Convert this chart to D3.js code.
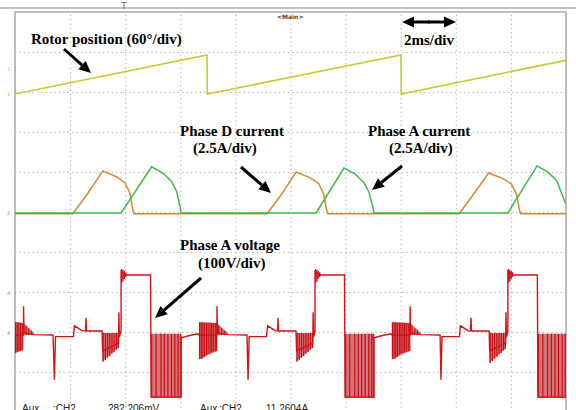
<!DOCTYPE html>
<html>
<head>
<meta charset="utf-8">
<script src="https://cdn.jsdelivr.net/npm/d3@7"></script>
<style>
    body { margin: 0; background: #fff; }
    svg { display: block; }
</style>
</head>
<body>
<div id="wrapper"></div>
<script>
// scope screen: 10 div across at 2 ms/div, 10 div down
const timeTicks = [0, 2, 4, 6, 8, 10, 12, 14, 16, 18, 20]   // ms
const divTicks = [0, 1, 2, 3, 4, 5, 6, 7, 8, 9, 10]

// rotor position, deg (60 deg/div)
const rotorPos = [[0, 58], [0, 0], [6.97, 58.5], [6.98, 0], [14.01, 58.5], [14.02, 0], [20, 50.5]]

// phase currents, A (2.5 A/div)
const phaseD = [[0, -0.05], [2.10, -0.05], [2.65, 1.25], [3.19, 2.63], [3.70, 2.25], [3.99, 1.88], [4.17, 1.25], [4.28, 0.19], [4.32, -0.05],
    [9.15, -0.05], [9.69, 1.2], [10.20, 2.56], [10.72, 2.2], [11.02, 1.85], [11.20, 1.2], [11.31, 0.2], [11.35, -0.05],
    [16.12, -0.05], [16.66, 1.2], [17.19, 2.5], [17.72, 2.15], [18.02, 1.8], [18.20, 1.2], [18.31, 0.2], [18.35, -0.05], [20, -0.05]]
const phaseA = [[0, 0], [3.85, 0], [4.96, 2.89], [5.38, 2.48], [5.69, 1.96], [5.87, 1.33], [5.99, 0.39], [6.03, 0],
    [10.93, 0], [11.94, 2.81], [12.34, 2.45], [12.67, 1.9], [12.85, 1.3], [12.99, 0.4], [13.03, 0],
    [17.89, 0], [18.95, 2.94], [19.35, 2.55], [19.67, 2.0], [19.96, 0.69], [20, 0.6]]

// phase A voltage, V (100 V/div)
const phaseAVolt = [[0, -5], [0.31, -5], [0.31, 67], [0.33, 0], [0.69, -4], [1.38, -5], [1.43, -117], [1.47, -9], [2.12, -9], [2.16, 18], [2.43, 6], [2.56, 5], [2.58, 38], [2.60, 5], [3.16, 5],
    [3.18, -45], [3.76, -25], [3.77, 52], [3.79, -10], [3.85, 5], [3.85, 155], [4.07, 145], [4.92, 145], [4.94, -160], [6.03, -160], [6.03, -12], [6.30, -7], [6.64, -2],
    [6.68, -5], [7.33, -5], [7.33, 67], [7.35, 0], [7.73, -4], [8.42, -5], [8.46, -117], [8.50, -9], [9.13, -9], [9.17, 18], [9.44, 6], [9.53, 5], [9.55, 38], [9.57, 5], [10.20, 5],
    [10.22, -45], [10.81, -25], [10.82, 52], [10.84, -10], [10.89, 5], [10.89, 155], [11.11, 145], [11.96, 145], [11.98, -160], [13.03, -160], [13.03, -12], [13.30, -7], [13.65, -2],
    [13.68, -5], [14.34, -5], [14.34, 67], [14.36, 0], [14.74, -4], [15.43, -5], [15.46, -117], [15.50, -9], [16.13, -9], [16.17, 18], [16.44, 6], [16.53, 5], [16.55, 38], [16.57, 5], [17.21, 5],
    [17.23, -45], [17.81, -25], [17.82, 52], [17.84, -10], [17.89, 5], [17.89, 155], [18.11, 145], [18.96, 145], [18.98, -160], [20, -160]]

// PWM chopping envelopes: [t0, t1, top0, top1, bottom0, bottom1]
const chopFills = [[0, 0.31, 27, 25, -50, -42], [0.31, 0.69, 25, 0, -5, -5], [3.16, 3.77, 0, 0, -72, -35], [3.85, 4.07, 158, 145, 128, 145], [4.94, 6.03, -2, -2, -162, -162],
    [6.68, 7.33, 27, 25, -65, -45], [7.33, 7.73, 25, 0, -5, -5], [10.20, 10.82, 0, 0, -72, -35], [10.89, 11.11, 158, 145, 128, 145], [11.98, 13.03, -2, -2, -162, -162],
    [13.68, 14.34, 27, 25, -65, -45], [14.34, 14.74, 25, 0, -5, -5], [17.21, 17.82, 0, 0, -75, -38], [17.89, 18.11, 158, 145, 128, 145], [18.98, 20, -2, -2, -162, -162]]

// individual chopping strokes: [t, top, bottom]
const chopLines = [[0.02, 27, -50], [0.08, 27, -48], [0.14, 26, -46], [0.20, 26, -45], [0.26, 25, -43], [0.40, 18, -5], [0.50, 12, -5], [0.60, 6, -5],
    [3.20, 0, -72], [3.28, 0, -68], [3.36, 0, -62], [3.44, 0, -58], [3.52, 0, -52], [3.60, 0, -48], [3.68, 0, -42], [3.75, 0, -38],
    [3.87, 160, 125], [3.92, 158, 128], [3.97, 155, 135], [4.02, 152, 140],
    [4.96, -2, -162], [5.12, -2, -162], [5.30, -2, -162], [5.42, -2, -162], [5.55, -2, -162], [5.68, -2, -162], [5.80, -2, -162], [5.92, -2, -162], [6.02, -2, -162],
    [6.70, 27, -65], [6.76, 27, -65], [6.82, 27, -64], [6.88, 26, -60], [6.95, 26, -55], [7.01, 26, -52], [7.08, 26, -50], [7.14, 25, -48], [7.20, 25, -47], [7.27, 25, -46], [7.32, 25, -45],
    [7.40, 18, -5], [7.50, 12, -5], [7.60, 6, -5],
    [10.24, 0, -72], [10.32, 0, -68], [10.40, 0, -62], [10.48, 0, -58], [10.56, 0, -52], [10.64, 0, -48], [10.72, 0, -42], [10.80, 0, -38],
    [10.91, 160, 125], [10.96, 158, 128], [11.01, 155, 135], [11.06, 152, 140],
    [12.00, -2, -162], [12.15, -2, -162], [12.33, -2, -162], [12.46, -2, -162], [12.58, -2, -162], [12.71, -2, -162], [12.84, -2, -162], [12.95, -2, -162], [13.02, -2, -162],
    [13.70, 27, -65], [13.76, 27, -65], [13.82, 27, -64], [13.88, 26, -60], [13.95, 26, -55], [14.01, 26, -52], [14.08, 26, -50], [14.14, 25, -48], [14.20, 25, -47], [14.27, 25, -46], [14.33, 25, -45],
    [14.41, 18, -5], [14.51, 12, -5], [14.61, 6, -5],
    [17.25, 0, -75], [17.33, 0, -70], [17.41, 0, -64], [17.49, 0, -60], [17.57, 0, -54], [17.65, 0, -50], [17.73, 0, -44], [17.80, 0, -40],
    [17.91, 160, 125], [17.96, 158, 128], [18.01, 155, 135], [18.06, 152, 140],
    [19.00, -2, -162], [19.16, -2, -162], [19.33, -2, -162], [19.47, -2, -162], [19.60, -2, -162], [19.73, -2, -162], [19.86, -2, -162], [19.97, -2, -162]]

window.addEventListener("load", paint)

function paint() {
    const width = 576, height = 410
    const plot = { left: 15, right: 566, top: 12, bottom: 412 }

    const svg = d3.select("#wrapper").append("svg")
        .attr("width", width).attr("height", height)
        .style("background", "#fff")

    const x = d3.scaleLinear().domain([0, 20]).range([plot.left, plot.right])
    const yDiv = d3.scaleLinear().domain([0, 10]).range([plot.top, plot.bottom])
    // channel offsets (zero level in divisions from top)
    const yRotor = d3.scaleLinear().domain([0, 60]).range([yDiv(2.05), yDiv(1.05)])
    const yCur = d3.scaleLinear().domain([0, 2.5]).range([yDiv(5.025), yDiv(4.025)])
    const yVolt = d3.scaleLinear().domain([0, 100]).range([yDiv(8.025), yDiv(7.025)])

    // top header line
    svg.append("line").attr("x1", 0).attr("x2", width).attr("y1", 8).attr("y2", 8)
        .attr("stroke", "#8a8a8a").attr("stroke-width", 1.2)
    svg.append("text").attr("x", 124).attr("y", 9).attr("text-anchor", "middle")
        .attr("font-family", "DejaVu Sans").attr("font-size", 9).attr("fill", "#666").text("T")
    svg.append("text").attr("x", 277).attr("y", 19)
        .attr("font-family", "DejaVu Sans").attr("font-weight", "bold").attr("font-size", 6)
        .attr("fill", "#444").text("<Main>")

    // grid via axes
    const grid = svg.append("g").attr("class", "grid")
    grid.append("g").attr("transform", `translate(0,${plot.bottom})`)
        .call(d3.axisBottom(x).tickValues(timeTicks.slice(1, -1)).tickSize(plot.top - plot.bottom).tickFormat(""))
    grid.append("g").attr("transform", `translate(${plot.left},0)`)
        .call(d3.axisLeft(yDiv).tickValues(divTicks.slice(1, -1)).tickSize(plot.left - plot.right).tickFormat(""))
    grid.selectAll(".domain").remove()
    grid.selectAll(".tick line").attr("stroke", "#a9a9a9").attr("stroke-width", 1)
        .attr("stroke-dasharray", "1.2,3.2")

    svg.append("rect").attr("x", plot.left).attr("y", plot.top)
        .attr("width", plot.right - plot.left).attr("height", plot.bottom - plot.top)
        .attr("fill", "none").attr("stroke", "#9c9c9c").attr("stroke-width", 1.3)

    // channel markers on the left edge
    const markers = [[yRotor(38), "1", "#c8cf5a"], [yRotor(0), "1", "#c8cf5a"], [yCur(0), "2", "#d09a5a"], [yVolt(100), "4", "#b080d0"], [yVolt(0), "4", "#d06060"]]
    svg.selectAll(".marker").data(markers).join("text")
        .attr("x", 7).attr("y", d => d[0] + 2).attr("font-size", 5)
        .attr("font-family", "DejaVu Sans").attr("fill", d => d[2]).text(d => d[1])

    svg.append("clipPath").attr("id", "clip").append("rect")
        .attr("x", plot.left).attr("y", plot.top)
        .attr("width", plot.right - plot.left).attr("height", plot.bottom - plot.top)
    const traces = svg.append("g").attr("clip-path", "url(#clip)")

    // rotor position
    traces.append("path").datum(rotorPos)
        .attr("d", d3.line().x(d => x(d[0])).y(d => yRotor(d[1])))
        .attr("fill", "none").attr("stroke", "#c4cc2e").attr("stroke-width", 1.6)

    // currents
    const curLine = d3.line().x(d => x(d[0])).y(d => yCur(d[1]))
    traces.append("path").datum(phaseD).attr("d", curLine)
        .attr("fill", "none").attr("stroke", "#d38a32").attr("stroke-width", 1.5)
    traces.append("path").datum(phaseA).attr("d", curLine)
        .attr("fill", "none").attr("stroke", "#3dbb47").attr("stroke-width", 1.5)

    // voltage chopping
    traces.selectAll(".chopFill").data(chopFills).join("path")
        .attr("d", d => d3.area().x(p => x(p[0])).y0(p => yVolt(p[2])).y1(p => yVolt(p[1]))
            ([[d[0], d[2], d[4]], [d[1], d[3], d[5]]]))
        .attr("fill", "#cf5c64").attr("opacity", 0.85)
    traces.selectAll(".chopLine").data(chopLines).join("line")
        .attr("x1", d => x(d[0])).attr("x2", d => x(d[0]))
        .attr("y1", d => yVolt(d[1])).attr("y2", d => yVolt(d[2]))
        .attr("stroke", "#c80f12").attr("stroke-width", 1.2)
    traces.append("path").datum(phaseAVolt)
        .attr("d", d3.line().x(d => x(d[0])).y(d => yVolt(d[1])))
        .attr("fill", "none").attr("stroke", "#d21616").attr("stroke-width", 1.4)

    // annotations
    const label = (tx, ty, s) => svg.append("text").attr("x", tx).attr("y", ty)
        .attr("font-family", "Liberation Serif").attr("font-weight", "bold")
        .attr("font-size", 15).attr("fill", "#000").text(s)
    label(31, 44, "Rotor position (60°/div)")
    label(404, 45, "2ms/div")
    label(180, 136, "Phase D current")
    label(193, 153, "(2.5A/div)")
    label(368, 136, "Phase A current")
    label(389, 153, "(2.5A/div)")
    label(180, 250, "Phase A voltage")
    label(198, 268, "(100V/div)")

    arrow(svg, 64, 49, 91, 73)
    arrow(svg, 241, 167, 271, 193)
    arrow(svg, 402, 166, 372, 190)
    arrow(svg, 201, 278, 155, 318)
    arrow(svg, 430, 22, 402, 22)
    arrow(svg, 428, 22, 456, 22)

    // readouts along the bottom (cut off by the crop)
    const readouts = [[22, "Aux"], [53, ":CH2"], [108, "282.206mV"], [200, "Aux"], [219, ":CH2"], [266, "11.2604A"]]
    svg.selectAll(".readout").data(readouts).join("text")
        .attr("x", d => d[0]).attr("y", 412).attr("font-family", "Liberation Sans")
        .attr("font-size", 10).attr("fill", "#222").text(d => d[1])
}

function arrow(g, x1, y1, x2, y2) {
    const len = Math.hypot(x2 - x1, y2 - y1)
    const ux = (x2 - x1) / len, uy = (y2 - y1) / len
    const headL = 12, headW = 5.5
    const bx = x2 - ux * headL, by = y2 - uy * headL
    g.append("line").attr("x1", x1).attr("y1", y1).attr("x2", bx).attr("y2", by)
        .attr("stroke", "#000").attr("stroke-width", 3)
    g.append("path")
        .attr("d", `M${x2},${y2}L${bx - uy * headW},${by + ux * headW}L${bx + uy * headW},${by - ux * headW}Z`)
        .attr("fill", "#000")
}
</script>
</body>
</html>
